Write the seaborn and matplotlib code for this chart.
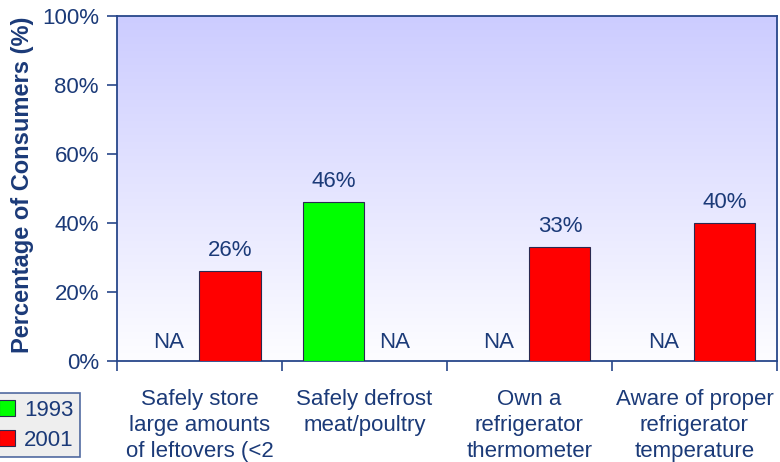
import numpy as np
import pandas as pd
import matplotlib
matplotlib.use("Agg")
import matplotlib.pyplot as plt
from matplotlib.lines import Line2D
from matplotlib.colors import LinearSegmentedColormap
import seaborn as sns

categories = [
    "Safely store\nlarge amounts\nof leftovers (<2",
    "Safely defrost\nmeat/poultry",
    "Own a\nrefrigerator\nthermometer",
    "Aware of proper\nrefrigerator\ntemperature",
]
years = ["1993", "2001"]
values_1993 = [np.nan, 46, np.nan, np.nan]
values_2001 = [26, np.nan, 33, 40]
yticks = [0, 20, 40, 60, 80, 100]

colors = {"1993": "#00FF00", "2001": "#FF0000"}
text_color = "#1B3A78"
line_color = "#27478A"

sns.set_theme(style="white")
plt.rcParams["font.family"] = ["Liberation Sans", "DejaVu Sans"]

df = pd.DataFrame({
    "category": categories * 2,
    "year": [years[0]] * len(categories) + [years[1]] * len(categories),
    "value": values_1993 + values_2001,
})

fig = plt.figure(figsize=(7.8, 4.62), dpi=100)
ax = fig.add_axes([0.15, 0.2186, 0.846, 0.7468])

bar_width = 0.74
sns.barplot(data=df, x="category", y="value", hue="year", hue_order=years,
            order=categories, palette=colors, saturation=1, width=bar_width,
            dodge=True, edgecolor="#2A2A50", linewidth=0.8, legend=False,
            ax=ax, zorder=3)

ax.set_xlim(-0.5, len(categories) - 0.5)
ax.set_ylim(0, 100)

# vertical lavender-to-white gradient behind the bars
grad = LinearSegmentedColormap.from_list("bg", ["#FDFDFF", "#CCCCFF"])
ax.imshow(np.linspace(0, 1, 256).reshape(-1, 1), cmap=grad, aspect="auto",
          extent=(-0.5, len(categories) - 0.5, 0, 100), origin="lower", zorder=0)

# value labels and NA markers
half = bar_width / len(years)
for j, series in enumerate([values_1993, values_2001]):
    offset = -bar_width / 2 + half * (j + 0.5)
    for i, v in enumerate(series):
        x = i + offset
        if np.isnan(v):
            ax.text(x, 2.3, "NA", ha="center", va="bottom", fontsize=16,
                    color=text_color, zorder=4)
        else:
            ax.text(x, v + 3.0, f"{v:.0f}%", ha="center", va="bottom",
                    fontsize=16, color=text_color, zorder=4)

ax.set_yticks(yticks)
ax.set_yticklabels([f"{t}%" for t in yticks], fontsize=16, color=text_color)
ax.set_xticks(range(len(categories)))
ax.set_xticklabels(categories, fontsize=16, color=text_color, linespacing=1.33,
                   va="top")
ax.set_xticks(np.arange(-0.5, len(categories)), minor=True)
ax.tick_params(axis="x", which="major", length=0, pad=20)
ax.tick_params(axis="x", which="minor", length=7, width=1.2, color=line_color,
               direction="out", bottom=True)
ax.tick_params(axis="y", length=7, width=1.2, color=line_color,
               direction="out", left=True, pad=6)

ax.set_xlabel("")
ax.set_ylabel("Percentage of Consumers (%)", fontsize=17, fontweight="bold",
              color=text_color)
ax.yaxis.set_label_coords(-0.126, 0.51)

for side, sp in ax.spines.items():
    sp.set_visible(True)
    sp.set_color(line_color)
    sp.set_linewidth(1.3)

handles = [Line2D([], [], marker="s", linestyle="none", markersize=12,
                  markerfacecolor=colors[y], markeredgecolor="#2A2A50",
                  markeredgewidth=0.8, label=y) for y in years]
leg = fig.legend(handles=handles, loc="lower left",
                 bbox_to_anchor=(-0.012, 0.01), bbox_transform=fig.transFigure,
                 fontsize=16, frameon=True, fancybox=False, handletextpad=0.3,
                 borderpad=0.3, labelspacing=0.4, handlelength=0.9,
                 borderaxespad=0)
leg.get_frame().set_facecolor("#EAEAEA")
leg.get_frame().set_edgecolor(line_color)
leg.get_frame().set_linewidth(1.2)
for t in leg.get_texts():
    t.set_color(text_color)

fig.savefig("out.png", dpi=100)
